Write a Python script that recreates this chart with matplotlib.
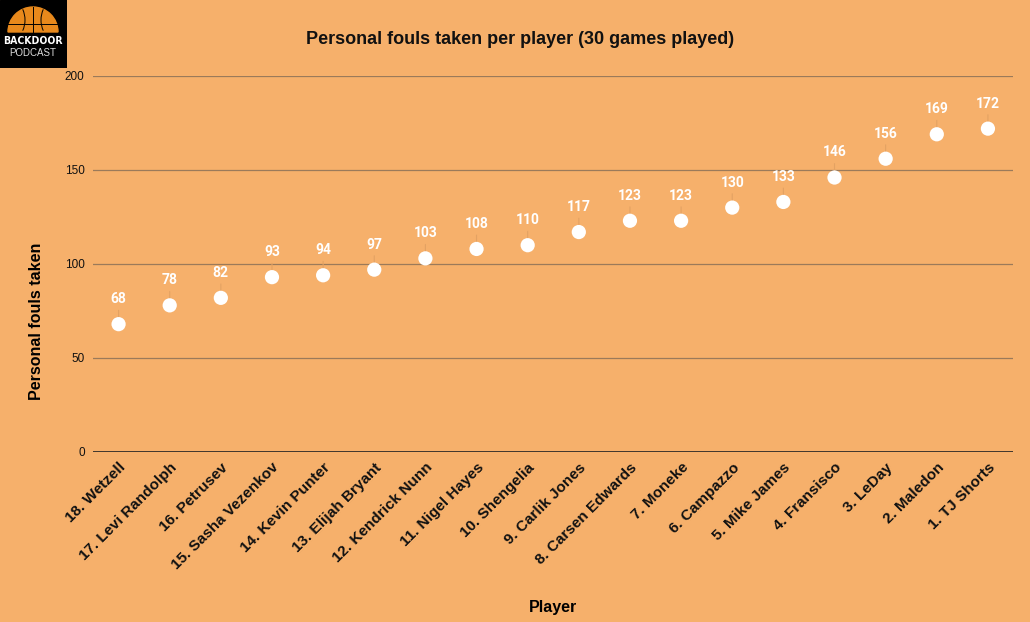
import matplotlib
matplotlib.use("Agg")
import matplotlib.pyplot as plt
from matplotlib.patches import Rectangle, Wedge, Arc

players = ["18. Wetzell", "17. Levi Randolph", "16. Petrusev", "15. Sasha Vezenkov",
           "14. Kevin Punter", "13. Elijah Bryant", "12. Kendrick Nunn", "11. Nigel Hayes",
           "10. Shengelia", "9. Carlik Jones", "8. Carsen Edwards", "7. Moneke",
           "6. Campazzo", "5. Mike James", "4. Fransisco", "3. LeDay", "2. Maledon",
           "1. TJ Shorts"]
fouls = [68, 78, 82, 93, 94, 97, 103, 108, 110, 117, 123, 123, 130, 133, 146, 156, 169, 172]
yticks = [0, 50, 100, 150, 200]

BG = "#F6B06B"
plt.rcParams['font.family'] = ['Liberation Sans', 'DejaVu Sans']

fig = plt.figure(figsize=(10.3, 6.22), dpi=100, facecolor=BG)
ax = fig.add_axes([93/1030, 1 - 452/622, (1013.5-93)/1030, (452-76)/622])
ax.set_facecolor(BG)

x = list(range(len(players)))
ax.set_xlim(-0.5, len(players) - 0.5)
ax.set_ylim(0, 200)
ax.set_yticks(yticks)
ax.set_yticklabels([str(v) for v in yticks], fontsize=8.5, color="#111111")
ax.tick_params(axis='y', length=0, pad=6)
ax.tick_params(axis='x', length=0, pad=6)
for s in ax.spines.values():
    s.set_visible(False)
for v in yticks[1:]:
    ax.axhline(v, color="#9b7a5a", lw=0.9, zorder=1)
ax.axhline(0, color="#222222", lw=1.2, zorder=1)

ax.scatter(x, fouls, s=105, color="white", zorder=4, edgecolors="none")
for xi, v in zip(x, fouls):
    ax.annotate("", xy=(xi, v), xytext=(0, 12), textcoords="offset points",
                arrowprops=dict(arrowstyle="-", color="#e3a263", lw=0.8), zorder=2)
    ax.annotate(str(v), xy=(xi, v), xytext=(0, 13), textcoords="offset points",
                ha="center", va="bottom", color="white", fontsize=10, fontweight="bold",
                family=["Roboto", "DejaVu Sans"], zorder=5)

ax.set_xticks(x)
ax.set_xticklabels(players, rotation=45, ha="right", rotation_mode="anchor",
                   fontsize=11, fontweight="bold", color="#111111")
ax.set_xlabel("Player", fontsize=11.5, fontweight="bold", labelpad=20)
ax.set_ylabel("Personal fouls taken", fontsize=11.5, fontweight="bold")
ax.yaxis.set_label_coords((44 - 93) / 920.5, (452 - 321) / 376)

fig.text(520/1030, 1 - 40/622, "Personal fouls taken per player (30 games played)",
         ha="center", va="center", fontsize=13, fontweight="bold", color="#111111")

# logo
lax = fig.add_axes([0, 1 - 68/622, 67/1030, 68/622])
lax.set_xlim(0, 67); lax.set_ylim(0, 68)
lax.axis("off")
lax.add_patch(Rectangle((0, 0), 67, 68, color="black"))
lax.add_patch(Wedge((33, 36), 25, 0, 180, color="#e8891c"))
lax.plot([33, 33], [36, 61], color="black", lw=0.7)
lax.add_patch(Arc((10, 48), 30, 40, theta1=-40, theta2=40, color="black", lw=0.7))
lax.add_patch(Arc((56, 48), 30, 40, theta1=140, theta2=220, color="black", lw=0.7))
lax.plot([8, 58], [44, 44], color="black", lw=0.7)
lax.text(33, 27, "BACKDOOR", ha="center", va="center", color="white",
         fontsize=7.5, fontweight="bold", family=["DejaVu Sans"], stretch="condensed")
lax.text(33, 15, "PODCAST", ha="center", va="center", color="#dddddd", fontsize=7)

fig.savefig("out.png", dpi=100, facecolor=BG)
